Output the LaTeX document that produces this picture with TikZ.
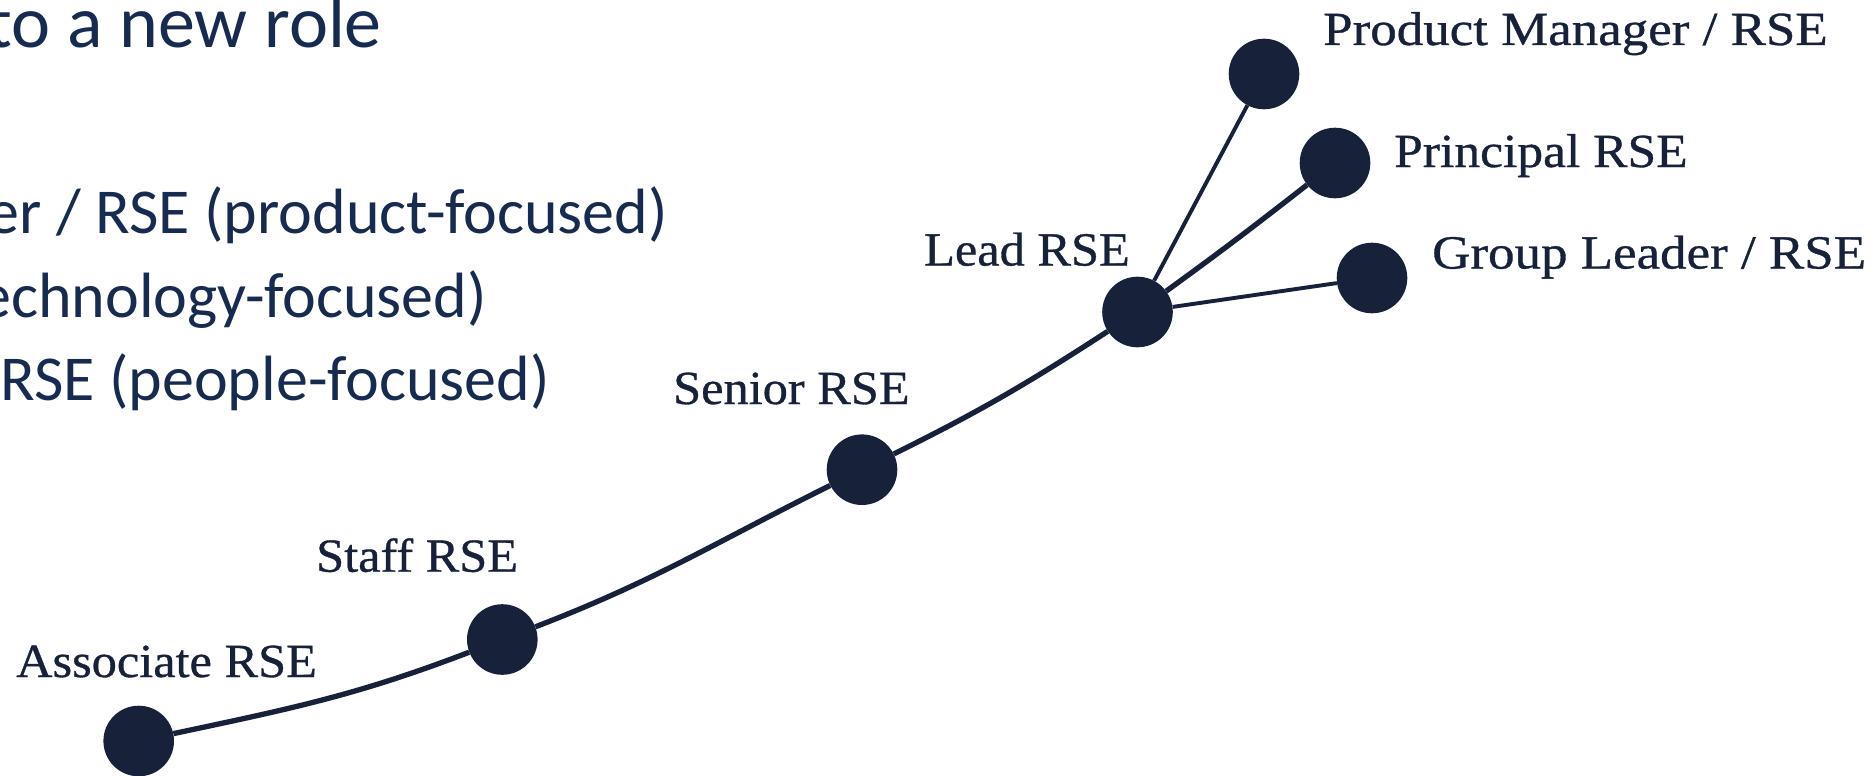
\documentclass[tikz,border=0pt]{standalone}
\usepackage{fontspec}
\newfontfamily\labfont[FakeStretch=1.06,FakeBold=0.7]{Liberation Serif}
\newfontfamily\labfontmid[FakeStretch=1.085,FakeBold=0.7]{Liberation Serif}
\newfontfamily\labfontwide[FakeStretch=1.115,FakeBold=0.7]{Liberation Serif}
\newfontfamily\bodyfont{Carlito}
\definecolor{ink}{HTML}{17223A}
\definecolor{bodyblue}{HTML}{172B50}
\tikzset{
  dot/.style={circle, fill=ink, draw=none, minimum size=70.6pt, inner sep=0pt},
  lab/.style={inner sep=0pt, text=ink, font=\labfont\fontsize{47.5}{57}\selectfont},
  labmid/.style={lab, font=\labfontmid\fontsize{47.5}{57}\selectfont},
  labwide/.style={lab, font=\labfontwide\fontsize{47.5}{57}\selectfont},
  bodytxt/.style={inner sep=0pt, text=bodyblue, font=\bodyfont\fontsize{64}{77}\selectfont},
  titletxt/.style={inner sep=0pt, text=bodyblue, font=\bodyfont\fontsize{74}{88}\selectfont},
  mainline/.style={draw=ink, line width=5.3pt},
  branchline/.style={draw=ink, line width=3.9pt}
}
\begin{document}
\begin{tikzpicture}[x=1pt,y=-1pt]
\useasboundingbox (0,0) rectangle (1874,776);
\clip (0,0) rectangle (1874,776);
% left text (cropped in the reference)
\node[titletxt, anchor=base east] (title) at (382,47.5) {to a new role};
\node[bodytxt, anchor=base east] (opt1) at (668,233) {er / RSE (product-focused)};
\node[bodytxt, anchor=base east] (opt2) at (487,317) {echnology-focused)};
\node[bodytxt, anchor=base east] (opt3) at (550,400) {RSE (people-focused)};
% dots
\node[dot] (A) at (138.7,741) {};
\node[dot] (B) at (502.3,639.5) {};
\node[dot] (C) at (862,469.7) {};
\node[dot] (D) at (1137.5,312) {};
\node[dot] (PM) at (1264,74) {};
\node[dot] (PR) at (1335,163) {};
\node[dot] (GL) at (1372,278) {};
% labels
\node[lab, anchor=base west] (lA) at (16,677) {Associate RSE};
\node[lab, anchor=base west] (lB) at (316,571.7) {Staff RSE};
\node[lab, anchor=base west] (lC) at (673,404) {Senior RSE};
\node[lab, anchor=base west] (lD) at (924,265.5) {Lead RSE};
\node[labwide, anchor=base west] (lPM) at (1323,45) {Product Manager / RSE};
\node[labmid, anchor=base west] (lPR) at (1394,167) {Principal RSE};
\node[labwide, anchor=base west] (lGL) at (1432,268.5) {Group Leader / RSE};
% connectors
\draw[mainline] (A) to[out=12,in=201] (B);
\draw[mainline] (B) to[out=21,in=206.5] (C);
\draw[mainline] (C) to[out=26.5,in=213] (D);
\draw[mainline] (D) to[out=36,in=218] (PR);
\draw[branchline] (D) -- (PM);
\draw[branchline] (D) -- (GL);
\end{tikzpicture}
\end{document}
